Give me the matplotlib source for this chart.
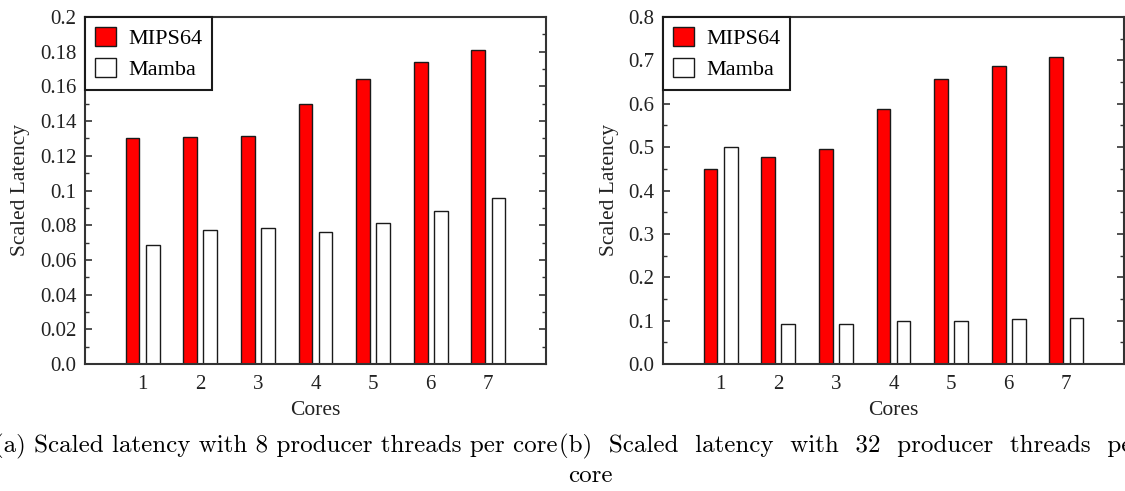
"""Scaled latency of MIPS64 vs Mamba for 8 and 32 producer threads per core."""

import matplotlib

matplotlib.use("Agg")
import matplotlib.pyplot as plt
import numpy as np
from matplotlib.ticker import FixedLocator, MultipleLocator

cores = [1, 2, 3, 4, 5, 6, 7]

mips_8 = [0.130, 0.131, 0.1315, 0.150, 0.1645, 0.174, 0.181]
mamba_8 = [0.0685, 0.0775, 0.0785, 0.076, 0.081, 0.088, 0.0955]

mips_32 = [0.449, 0.477, 0.495, 0.588, 0.658, 0.686, 0.708]
mamba_32 = [0.500, 0.092, 0.093, 0.098, 0.100, 0.103, 0.107]

yticks_8 = [0.0, 0.02, 0.04, 0.06, 0.08, 0.1, 0.12, 0.14, 0.16, 0.18, 0.2]
ylabels_8 = ["0.0", "0.02", "0.04", "0.06", "0.08", "0.1", "0.12", "0.14",
             "0.16", "0.18", "0.2"]
yticks_32 = [0.0, 0.1, 0.2, 0.3, 0.4, 0.5, 0.6, 0.7, 0.8]
ylabels_32 = ["0.0", "0.1", "0.2", "0.3", "0.4", "0.5", "0.6", "0.7", "0.8"]

caption_a = "(a) Scaled latency with 8 producer threads per core"
caption_b = "(b)  Scaled  latency  with  32  producer  threads  per"

SERIF = ["Liberation Serif", "DejaVu Serif"]
CAPTION_FONT = ["cmr10", "DejaVu Serif"]
EDGE = "#333333"

plt.rcParams["font.family"] = SERIF


def draw_panel(ax, mips, mamba, yticks, ylabels, ymax, minor_step):
    x = np.array(cores, dtype=float)
    width = 0.24
    ax.bar(x - 0.175, mips, width, color="#ff0000", edgecolor="#1a1a1a",
           linewidth=1.0, label="MIPS64", zorder=2)
    ax.bar(x + 0.175, mamba, width, color="white", edgecolor="#1a1a1a",
           linewidth=1.0, label="Mamba", zorder=2)

    ax.set_xlim(0, 8)
    ax.set_ylim(0, ymax)
    ax.set_xticks(cores)
    ax.set_xticklabels([str(c) for c in cores])
    ax.yaxis.set_major_locator(FixedLocator(yticks))
    ax.set_yticklabels(ylabels)
    ax.yaxis.set_minor_locator(MultipleLocator(minor_step))

    ax.tick_params(axis="x", length=0, pad=8, labelsize=15, colors="#222222")
    ax.tick_params(axis="y", which="major", direction="in", length=5,
                   width=1.2, left=True, right=True, labelsize=15,
                   color=EDGE, labelcolor="#222222", pad=6)
    ax.tick_params(axis="y", which="minor", direction="in", length=3,
                   width=1.0, left=True, right=True, color=EDGE)

    for spine in ax.spines.values():
        spine.set_color(EDGE)
        spine.set_linewidth(1.5)

    ax.set_xlabel("Cores", fontsize=15.5, labelpad=5, color="#222222")
    ax.set_ylabel("Scaled Latency", fontsize=15.5, labelpad=7, color="#222222")

    leg = ax.legend(loc="upper left", borderaxespad=0, fancybox=False,
                    fontsize=16, handlelength=0.95, handleheight=0.95,
                    handletextpad=0.55, borderpad=0.45, labelspacing=0.4,
                    framealpha=1)
    leg.get_frame().set_edgecolor("#1a1a1a")
    leg.get_frame().set_linewidth(1.5)


fig = plt.figure(figsize=(11.25, 4.91), dpi=100)
ax_a = fig.add_axes([85 / 1125, 1 - 364 / 491, 461 / 1125, 347 / 491])
ax_b = fig.add_axes([663 / 1125, 1 - 364 / 491, 461 / 1125, 347 / 491])

draw_panel(ax_a, mips_8, mamba_8, yticks_8, ylabels_8, 0.2, 0.01)
draw_panel(ax_b, mips_32, mamba_32, yticks_32, ylabels_32, 0.8, 0.05)

fig.text(558 / 1125, 1 - 446 / 491, caption_a, ha="right", va="center",
         fontsize=18, family=CAPTION_FONT)
fig.text(559 / 1125, 1 - 446 / 491, caption_b, ha="left", va="center",
         fontsize=18, family=CAPTION_FONT)
fig.text(590 / 1125, 1 - 476 / 491, "core", ha="center", va="center",
         fontsize=18, family=CAPTION_FONT)

fig.savefig("out.png", dpi=100)
